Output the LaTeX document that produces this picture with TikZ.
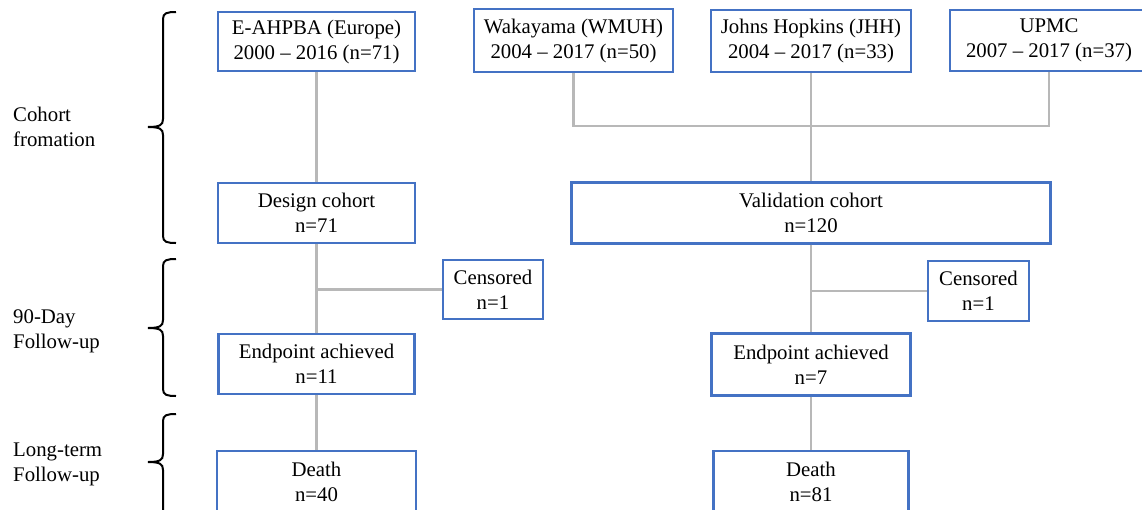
\documentclass[tikz,border=0pt]{standalone}
\usepackage{fontspec}
\setmainfont{Liberation Serif}
\definecolor{boxblue}{HTML}{4472C4}
\definecolor{linegray}{HTML}{B8B8B8}
\begin{document}
\begin{tikzpicture}[x=1pt,y=-1pt,
  every node/.style={font=\fontsize{20.8}{25}\selectfont, inner sep=0pt},
  flowbox/.style={draw=boxblue, line width=2.2pt, fill=white, align=center},
  conn/.style={draw=linegray, line width=2.2pt},
  brace/.style={draw=black, line width=2pt},
  phase/.style={anchor=west, align=left}]
\useasboundingbox (0,0) rectangle (1142,509);
\clip (0,0) rectangle (1142,509);
% boxes
\node[flowbox, minimum width=197pt, minimum height=59pt] (eah) at (316.5,41.5) {E-AHPBA (Europe)\\2000 -- 2016 (n=71)};
\node[flowbox, minimum width=199pt, minimum height=63pt] (wak) at (573.5,40.5) {Wakayama (WMUH)\\2004 -- 2017 (n=50)};
\node[flowbox, minimum width=200pt, minimum height=62pt] (jhh) at (811,41) {Johns Hopkins (JHH)\\2004 -- 2017 (n=33)};
\node[flowbox, minimum width=198pt, minimum height=61pt] (upmc) at (1049,40.5) {UPMC\\2007 -- 2017 (n=37)};
\node[flowbox, minimum width=197pt, minimum height=60pt] (design) at (316.5,213) {Design cohort\\n=71};
\node[flowbox, minimum width=479pt, minimum height=61pt] (valid) at (811,213) {Validation cohort\\n=120};
\node[flowbox, minimum width=100pt, minimum height=59pt] (cen1) at (493,289.5) {Censored\\n=1};
\node[flowbox, minimum width=101pt, minimum height=60pt] (cen2) at (978.5,291) {Censored\\n=1};
\node[flowbox, minimum width=196pt, minimum height=60pt] (end1) at (316.5,364) {Endpoint achieved\\n=11};
\node[flowbox, minimum width=199pt, minimum height=62pt] (end2) at (811,364.5) {Endpoint achieved\\n=7};
\node[flowbox, minimum width=199pt, minimum height=62pt] (death1) at (316.5,482) {Death\\n=40};
\node[flowbox, minimum width=195pt, minimum height=62pt] (death2) at (811,482) {Death\\n=81};
% connectors
\coordinate (jn) at (811,126);
\draw[conn] (eah.south) -- (design.north);
\draw[conn] (wak.south) |- (jn) -| (upmc.south);
\draw[conn] (jhh.south) -- (valid.north);
\draw[conn] (design.south) -- (end1.north);
\draw[conn] (design.south |- cen1.west) -- (cen1.west);
\draw[conn] (valid.south) -- (end2.north);
\draw[conn] (valid.south |- cen2.west) -- (cen2.west);
\draw[conn] (end1.south) -- (death1.north);
\draw[conn] (end2.south) -- (death2.north);
% phase labels
\node[phase] (l1) at (13,126.5) {Cohort\\fromation};
\node[phase] (l2) at (13,331) {90-Day\\Follow-up};
\node[phase] (l3) at (13,464.5) {Long-term\\Follow-up};
% braces
\draw[brace] (176,12) .. controls (167,12) and (163,13) .. (163,19) -- (163,119)
  .. controls (163,125) and (160,127) .. (148,127)
  .. controls (160,127) and (163,129) .. (163,135) -- (163,236)
  .. controls (163,242) and (167,243) .. (176,243);
\draw[brace] (176,259) .. controls (167,259) and (163,260) .. (163,266) -- (163,320)
  .. controls (163,326) and (160,328) .. (148,328)
  .. controls (160,328) and (163,330) .. (163,336) -- (163,389)
  .. controls (163,395) and (167,396) .. (176,396);
\draw[brace] (176,414) .. controls (167,414) and (163,415) .. (163,421) -- (163,454)
  .. controls (163,460) and (160,462) .. (148,462)
  .. controls (160,462) and (163,464) .. (163,470) -- (163,560);
\end{tikzpicture}
\end{document}
